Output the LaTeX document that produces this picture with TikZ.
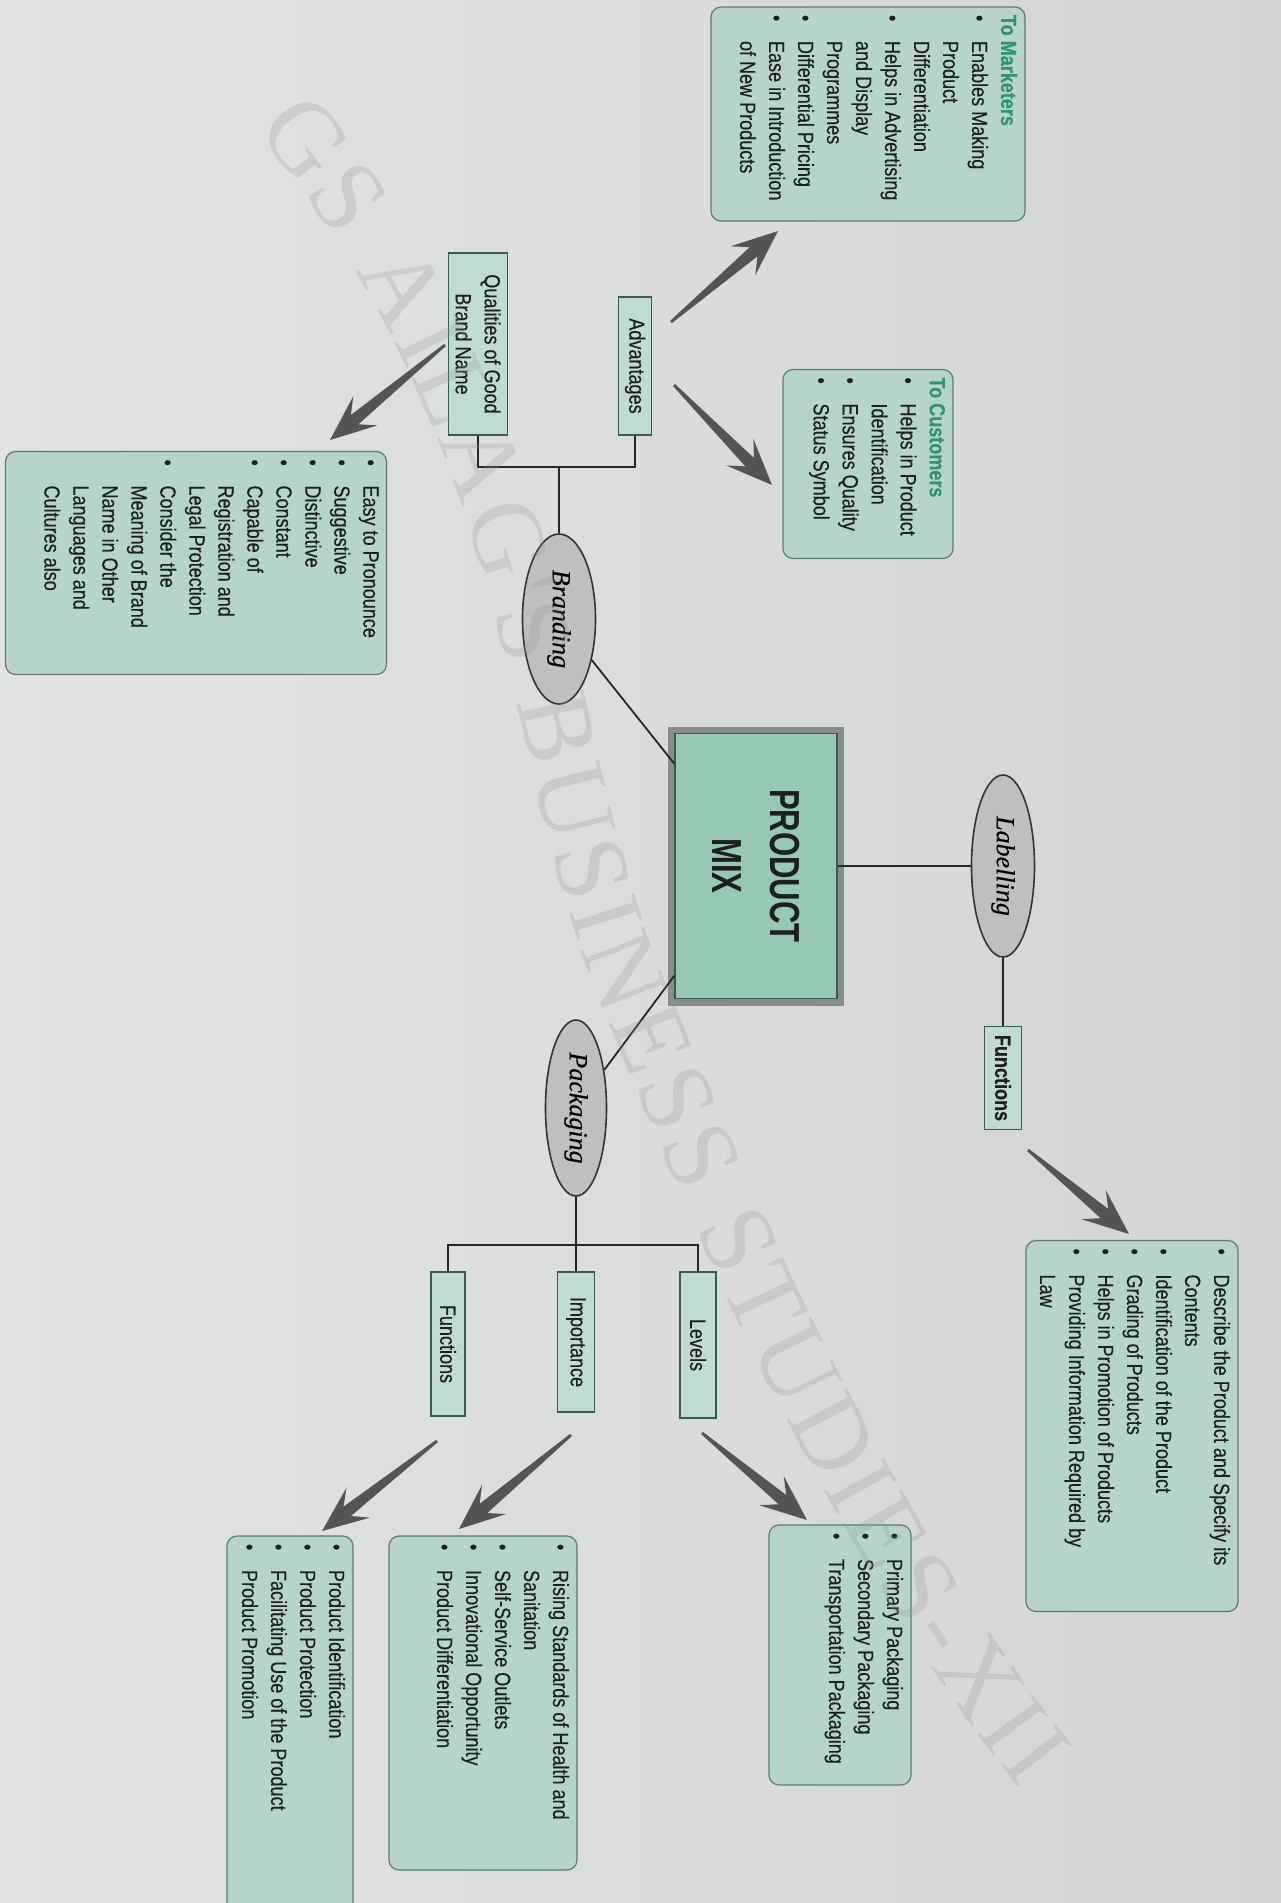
\documentclass[tikz,border=0pt]{standalone}
\usepackage{fontspec}
\setmainfont[FakeStretch=0.82, FakeBold=0.35]{Liberation Sans}
\newfontfamily\serifit[FakeBold=0.3]{Liberation Serif}
\newfontfamily\mixfont[FakeStretch=0.74]{Liberation Sans}
\newfontfamily\filfont{Liberation Serif}
\usetikzlibrary{calc}
\usetikzlibrary{shapes.geometric}
\usetikzlibrary{decorations.text}

\definecolor{fond}{RGB}{210,213,209}
\definecolor{fondclair}{RGB}{226,228,225}
\definecolor{vertl}{RGB}{182,212,199}
\definecolor{vertt}{RGB}{192,219,207}
\definecolor{vertm}{RGB}{150,201,180}
\definecolor{bordl}{RGB}{92,124,111}
\definecolor{bordt}{RGB}{50,94,78}
\definecolor{cadre}{RGB}{138,140,138}
\definecolor{ellg}{RGB}{190,191,190}
\definecolor{encre}{RGB}{30,30,30}
\definecolor{titre}{RGB}{48,148,116}
\definecolor{flechec}{RGB}{84,84,84}
\definecolor{filig}{RGB}{150,152,150}

\newcommand{\puce}{\makebox[13pt][l]{\textbullet}}
\newcommand{\retrait}{\hspace*{13pt}}
\newcommand{\liste}[3]{\parbox[c][#2][t]{#1}{\raggedright #3}}
\newcommand{\fleche}[2]{%
  \coordinate (fA) at ($(#2)!23pt!(#1)$);
  \coordinate (fN) at ($(#2)!16pt!(#1)$);
  \fill[fleche_c] ($(#1)!0.7pt!90:(#2)$) -- ($(fN)!3pt!90:(#2)$) -- ($(fA)!9.5pt!90:(#2)$)
    -- (#2) -- ($(fA)!9.5pt!-90:(#2)$) -- ($(fN)!3pt!-90:(#2)$) -- ($(#1)!0.7pt!-90:(#2)$) -- cycle;}

\tikzset{
    noeud/.style = {align=center, inner sep=0pt, rotate=-90, text=encre,
        font=\fontsize{11}{14.5}\selectfont},
    boite_l/.style = {noeud, rectangle, rounded corners=5pt, draw=bordl, fill=vertl,
        line width=0.6pt, inner sep=4pt},% boite liste a puces
    boite_t/.style = {noeud, rectangle, draw=bordt, fill=vertt, line width=0.9pt},% boite titre
    ell_n/.style = {noeud, ellipse, draw=black!80, fill=ellg, line width=0.8pt, text=black,
        font=\serifit\itshape\fontsize{13}{15}\selectfont},% ellipse grise
    mix_n/.style = {noeud, rectangle, draw=bordt, fill=vertm, line width=0.7pt,
        preaction={draw=cadre, line width=7pt}, minimum width=132.5pt, minimum height=81pt,
        font=\mixfont\bfseries\fontsize{21}{29}\selectfont},% noeud central
    lien/.style = {draw=black!85, line width=0.9pt},
    fleche_c/.style = {fill=flechec},
}

\begin{document}
\begin{tikzpicture}[x=0.5pt, y=-0.5pt]
\useasboundingbox (0,0) rectangle (1281,1903);
\begin{scope}
\clip (0,0) rectangle (1281,1903);
\shade[left color=fondclair, right color=fond] (0,0) rectangle (1281,1903);

% centre
\node [mix_n] (mix) at (756,866) {PRODUCT\\MIX};
\node [ell_n, minimum width=85pt, minimum height=36.5pt] (brand) at (559,619) {Branding};
\node [ell_n, minimum width=91pt, minimum height=31.5pt] (lab) at (1003,866) {Labelling};
\node [ell_n, minimum width=88pt, minimum height=30.5pt] (pack) at (576,1108) {Packaging};

% branding
\node [boite_t, minimum width=69pt, minimum height=16.5pt] (adv) at (635,366) {Advantages};
\node [boite_t, minimum width=91pt, minimum height=29.5pt] (qual) at (478,344) {Qualities of Good\\Brand Name};
\coordinate (bb) at (559,467);
\node [boite_l] (tomk) at (868,114) {\liste{99pt}{149pt}{%
    {\bfseries\color{titre}To Marketers}\\
    \puce Enables Making\\
    \retrait Product\\
    \retrait Differentiation\\
    \puce Helps in Advertising\\
    \retrait and Display\\
    \retrait Programmes\\
    \puce Differential Pricing\\
    \puce Ease in Introduction\\
    \retrait of New Products}};
\node [boite_l] (tocu) at (868,464) {\liste{86.5pt}{77pt}{%
    {\bfseries\color{titre}To Customers}\\
    \puce Helps in Product\\
    \retrait Identification\\
    \puce Ensures Quality\\
    \puce Status Symbol}};
\node [boite_l] (easy) at (196,563) {\liste{103.5pt}{182.5pt}{%
    \puce Easy to Pronounce\\
    \puce Suggestive\\
    \puce Distinctive\\
    \puce Constant\\
    \puce Capable of\\
    \retrait Registration and\\
    \retrait Legal Protection\\
    \puce Consider the\\
    \retrait Meaning of Brand\\
    \retrait Name in Other\\
    \retrait Languages and\\
    \retrait Cultures also}};

% labelling
\node [boite_t, minimum width=51.5pt, minimum height=18.5pt, font=\bfseries\fontsize{11}{14.5}\selectfont] (lfonc) at (1003,1078) {Functions};
\node [boite_l] (desc) at (1132,1426) {\liste{177.5pt}{98pt}{%
    \puce Describe the Product and Specify its\\
    \retrait Contents\\
    \puce Identification of the Product\\
    \puce Grading of Products\\
    \puce Helps in Promotion of Products\\
    \puce Providing Information Required by\\
    \retrait Law}};

% packaging
\coordinate (pb) at (576,1245);
\node [boite_t, minimum width=73pt, minimum height=18pt] (lev) at (698,1345) {Levels};
\node [boite_t, minimum width=70pt, minimum height=18.5pt] (imp) at (576,1342) {Importance};
\node [boite_t, minimum width=72pt, minimum height=17pt] (pfonc) at (448,1344) {Functions};
\node [boite_l] (prim) at (840,1655) {\liste{122pt}{63pt}{%
    \puce Primary Packaging\\
    \puce Secondary Packaging\\
    \puce Transportation Packaging}};
\node [boite_l] (risi) at (483,1703) {\liste{159pt}{86pt}{%
    \puce Rising Standards of Health and\\
    \retrait Sanitation\\
    \puce Self-Service Outlets\\
    \puce Innovational Opportunity\\
    \puce Product Differentiation}};
\node [boite_l] (prid) at (290,1763) {\liste{219pt}{55pt}{%
    \puce Product Identification\\
    \puce Product Protection\\
    \puce Facilitating Use of the Product\\
    \puce Product Promotion}};

% liens
\draw [lien] (mix) -- (lab);
\draw [lien] (mix) -- (brand);
\draw [lien] (mix) -- (pack);
\draw [lien] (lab) -- (lfonc);
\draw [lien] (qual.east) |- (bb) -- (brand);
\draw [lien] (adv.east) |- (bb);
\draw [lien] (pack) -- (pb);
\draw [lien] (pfonc.west) |- (pb) -| (lev.west);
\draw [lien] (pb) -- (imp);

% fleches
\coordinate (f1_d) at (671,322);  \coordinate (f1_a) at (778,231);
\coordinate (f2_d) at (674,385);  \coordinate (f2_a) at (772,485);
\coordinate (f3_d) at (445,345);  \coordinate (f3_a) at (330,440);
\coordinate (f4_d) at (1028,1150); \coordinate (f4_a) at (1129,1234);
\coordinate (f5_d) at (702,1433); \coordinate (f5_a) at (807,1520);
\coordinate (f6_d) at (571,1435); \coordinate (f6_a) at (459,1529);
\coordinate (f7_d) at (437,1441); \coordinate (f7_a) at (322,1531);
\fleche{f1_d}{f1_a}
\fleche{f2_d}{f2_a}
\fleche{f3_d}{f3_a}
\fleche{f4_d}{f4_a}
\fleche{f5_d}{f5_a}
\fleche{f6_d}{f6_a}
\fleche{f7_d}{f7_a}

% filigrane
\begin{scope}[opacity=0.25]
\path [decorate, decoration={text along path, text align=fit to path,
    text={|\filfont\fontsize{52}{52}\selectfont\color{filig}|GS AILAG'S BUSINESS STUDIES-XII}}]
    (255,130) .. controls (520,450) and (500,760) .. (600,1000)
    .. controls (720,1300) and (840,1560) .. (1020,1790);
\end{scope}
\end{scope}
\end{tikzpicture}
\end{document}
